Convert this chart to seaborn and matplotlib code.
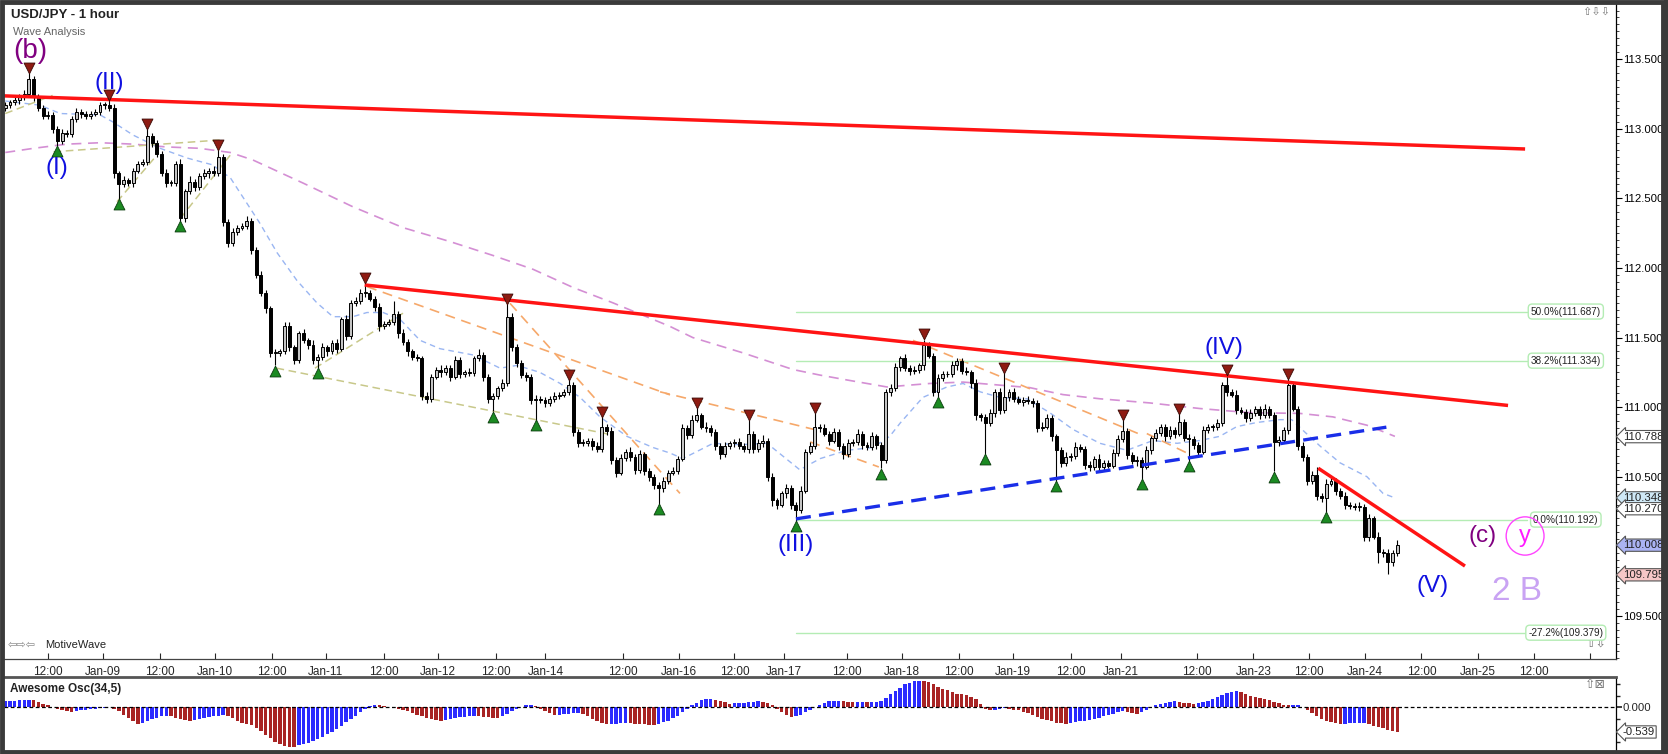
import numpy as np
import pandas as pd
import matplotlib
matplotlib.use("Agg")
import matplotlib.pyplot as plt
import matplotlib.transforms as mtransforms
from matplotlib.patches import Ellipse, Rectangle
from matplotlib.ticker import FixedLocator, MultipleLocator, NullFormatter
import seaborn as sns

# ------------------------------------------------------------------ data
close = [
    113.17, 113.19, 113.21, 113.23, 113.25, 113.36, 113.23, 113.15, 113.09, 113.10,
    113.00, 112.91, 112.97, 112.96, 113.07, 113.12, 113.11, 113.09, 113.11, 113.12,
    113.17, 113.17, 113.15, 112.68, 112.60, 112.63, 112.61, 112.70, 112.75, 112.76,
    112.95, 112.90, 112.82, 112.68, 112.61, 112.61, 112.75, 112.36, 112.55, 112.62,
    112.58, 112.66, 112.68, 112.70, 112.68, 112.80, 112.33, 112.18, 112.26, 112.29,
    112.30, 112.34, 112.13, 111.95, 111.82, 111.71, 111.39, 111.39, 111.40, 111.58,
    111.43, 111.34, 111.53, 111.48, 111.45, 111.34, 111.36, 111.43, 111.40, 111.46,
    111.42, 111.63, 111.51, 111.75, 111.76, 111.82, 111.82, 111.78, 111.72, 111.58,
    111.60, 111.61, 111.67, 111.53, 111.47, 111.40, 111.36, 111.35, 111.08, 111.06,
    111.22, 111.27, 111.25, 111.28, 111.22, 111.34, 111.24, 111.25, 111.245, 111.35,
    111.375, 111.22, 111.06, 111.08, 111.135, 111.17, 111.65, 111.435, 111.32, 111.23,
    111.22, 111.05, 111.06, 111.05, 111.03, 111.06, 111.08, 111.09, 111.11, 111.16,
    110.82, 110.74, 110.74, 110.76, 110.72, 110.70, 110.86, 110.83, 110.62, 110.53,
    110.635, 110.68, 110.645, 110.55, 110.66, 110.54, 110.50, 110.44, 110.42, 110.47,
    110.53, 110.54, 110.63, 110.85, 110.80, 110.91, 110.94, 110.86, 110.85, 110.82,
    110.72, 110.66, 110.72, 110.74, 110.75, 110.72, 110.70, 110.81, 110.70, 110.74,
    110.76, 110.50, 110.33, 110.30, 110.38, 110.42, 110.30, 110.26, 110.40, 110.68,
    110.72, 110.86, 110.85, 110.81, 110.76, 110.82, 110.72, 110.66, 110.74, 110.75,
    110.81, 110.73, 110.71, 110.79, 110.73, 110.62, 111.11, 111.135, 111.29, 111.35,
    111.28, 111.26, 111.265, 111.30, 111.45, 111.37, 111.11, 111.21, 111.24, 111.235,
    111.30, 111.33, 111.26, 111.25, 111.17, 110.94, 110.93, 110.885, 110.956, 111.11,
    110.98, 111.075, 111.11, 111.06, 111.04, 111.05, 111.045, 111.03, 110.85, 110.86,
    110.92, 110.79, 110.69, 110.60, 110.645, 110.65, 110.716, 110.70, 110.585, 110.57,
    110.63, 110.57, 110.60, 110.58, 110.67, 110.77, 110.83, 110.656, 110.61, 110.62,
    110.573, 110.69, 110.776, 110.813, 110.86, 110.79, 110.836, 110.81, 110.896, 110.776,
    110.77, 110.728, 110.68, 110.836, 110.86, 110.855, 110.885, 111.16, 111.11, 111.09,
    110.98, 110.968, 110.92, 110.956, 110.99, 110.944, 110.99, 110.944, 110.75, 110.764,
    110.836, 111.16, 110.99, 110.72, 110.644, 110.47, 110.51, 110.36, 110.345, 110.45,
    110.47, 110.40, 110.36, 110.30, 110.29, 110.28, 110.285, 110.07, 110.20, 110.07,
    109.96, 109.95, 109.89, 109.95, 110.008,
]
first_open = 113.15

upper_wick_pips = [
    2, 2, 3, 2, 3, 4, 2, 2, 2, 3,
    2, 2, 3, 2, 2, 3, 2, 2, 2, 2,
    2, 2, 4, 3, 2, 3, 2, 2, 2, 2,
    5, 2, 2, 2, 3, 2, 2, 3, 2, 4,
    2, 2, 3, 2, 3, 5, 2, 2, 3, 2,
    2, 3, 2, 2, 3, 2, 2, 3, 2, 3,
    3, 2, 2, 3, 2, 3, 2, 3, 2, 2,
    3, 2, 3, 2, 3, 3, 6, 2, 2, 3,
    2, 2, 9, 2, 3, 2, 2, 2, 2, 3,
    2, 2, 3, 2, 2, 3, 2, 2, 3, 2,
    4, 2, 2, 2, 2, 3, 9, 3, 2, 2,
    2, 2, 3, 2, 2, 2, 3, 2, 2, 4,
    2, 2, 3, 2, 2, 3, 7, 2, 3, 2,
    3, 2, 3, 2, 3, 2, 2, 2, 2, 3,
    2, 3, 2, 3, 2, 3, 6, 2, 3, 2,
    2, 2, 3, 2, 2, 3, 2, 10, 2, 3,
    4, 2, 3, 2, 2, 3, 2, 2, 3, 2,
    3, 10, 2, 3, 2, 3, 2, 2, 3, 2,
    3, 2, 2, 3, 2, 2, 2, 3, 3, 2,
    3, 2, 3, 2, 3, 2, 2, 3, 2, 2,
    3, 2, 2, 3, 2, 3, 2, 2, 3, 2,
    3, 17, 2, 3, 2, 2, 3, 2, 2, 3,
    3, 2, 2, 2, 3, 2, 3, 2, 2, 3,
    2, 3, 2, 2, 3, 3, 8, 2, 2, 3,
    2, 3, 2, 3, 2, 2, 3, 2, 6, 2,
    3, 2, 2, 3, 2, 2, 3, 2, 8, 2,
    3, 2, 2, 3, 2, 2, 3, 2, 2, 3,
    2, 4, 2, 2, 3, 2, 3, 6, 2, 3,
    3, 2, 2, 3, 2, 2, 3, 2, 3, 2,
    3, 2, 3, 2, 4,
]
lower_wick_pips = [
    2, 2, 2, 3, 2, 2, 3, 2, 2, 2,
    3, 3, 2, 2, 2, 2, 3, 2, 2, 2,
    2, 3, 2, 3, 11, 2, 2, 3, 2, 2,
    2, 3, 2, 2, 3, 2, 2, 2, 3, 2,
    3, 2, 2, 3, 2, 2, 3, 3, 2, 2,
    2, 2, 3, 2, 2, 3, 3, 9, 2, 2,
    3, 3, 2, 2, 3, 3, 6, 2, 3, 2,
    3, 2, 3, 2, 2, 2, 3, 2, 3, 3,
    2, 2, 2, 3, 2, 3, 2, 2, 3, 3,
    2, 2, 3, 2, 3, 2, 3, 2, 2, 2,
    2, 3, 3, 9, 2, 2, 2, 3, 3, 2,
    3, 3, 15, 2, 3, 2, 2, 2, 2, 2,
    3, 3, 2, 2, 3, 2, 2, 3, 3, 3,
    2, 2, 3, 3, 2, 3, 3, 3, 12, 3,
    2, 2, 2, 2, 3, 2, 2, 2, 3, 3,
    3, 3, 2, 2, 3, 2, 2, 3, 3, 2,
    3, 3, 4, 3, 2, 3, 3, 8, 2, 2,
    2, 2, 3, 2, 3, 2, 3, 3, 2, 2,
    2, 3, 2, 2, 3, 6, 2, 3, 2, 3,
    2, 3, 2, 2, 3, 2, 3, 4, 2, 2,
    2, 3, 2, 2, 3, 3, 3, 22, 2, 3,
    3, 2, 3, 2, 2, 3, 2, 3, 3, 2,
    2, 3, 22, 3, 2, 3, 2, 2, 3, 3,
    2, 3, 3, 2, 2, 2, 2, 3, 2, 3,
    9, 2, 3, 2, 2, 3, 2, 3, 2, 2,
    16, 3, 3, 2, 2, 3, 2, 2, 3, 2,
    3, 2, 3, 2, 2, 3, 2, 2, 21, 3,
    2, 3, 2, 3, 3, 3, 2, 3, 3, 10,
    2, 3, 2, 3, 2, 2, 3, 3, 3, 2,
    8, 3, 9, 3, 2,
]

# Awesome Oscillator (34,5) values
ao = [
    0.13, 0.135, 0.14, 0.15, 0.16, 0.17, 0.165, 0.12, 0.08, 0.04,
    0.01, -0.03, -0.07, -0.09, -0.10, -0.09, -0.07, -0.05, -0.04, -0.03,
    -0.02, -0.01, 0.01, -0.03, -0.09, -0.16, -0.24, -0.31, -0.37, -0.34,
    -0.30, -0.26, -0.23, -0.20, -0.18, -0.20, -0.23, -0.26, -0.28, -0.29,
    -0.27, -0.25, -0.23, -0.21, -0.19, -0.18, -0.17, -0.19, -0.24, -0.29,
    -0.34, -0.37, -0.39, -0.45, -0.52, -0.60, -0.68, -0.75, -0.80, -0.84,
    -0.86, -0.87, -0.83, -0.80, -0.77, -0.73, -0.69, -0.64, -0.59, -0.53,
    -0.47, -0.40, -0.33, -0.26, -0.18, -0.10, -0.03, 0.03, 0.05, 0.04,
    0.02, 0.00, -0.01, -0.03, -0.05, -0.08, -0.12, -0.16, -0.20, -0.23,
    -0.26, -0.28, -0.29, -0.27, -0.25, -0.23, -0.22, -0.21, -0.20, -0.19,
    -0.20, -0.21, -0.22, -0.23, -0.24, -0.20, -0.14, -0.08, -0.03, 0.01,
    0.04, 0.06, 0.02, -0.03, -0.08, -0.13, -0.17, -0.16, -0.15, -0.14,
    -0.13, -0.12, -0.15, -0.20, -0.26, -0.31, -0.35, -0.37, -0.36, -0.355,
    -0.35, -0.345, -0.35, -0.36, -0.37, -0.375, -0.38, -0.385, -0.36, -0.33,
    -0.29, -0.24, -0.18, -0.11, -0.04, 0.04, 0.10, 0.15, 0.18, 0.19,
    0.17, 0.14, 0.11, 0.08, 0.085, 0.09, 0.10, 0.11, 0.12, 0.13,
    0.12, 0.10, 0.04, -0.03, -0.10, -0.16, -0.22, -0.20, -0.16, -0.11,
    -0.05, 0.01, 0.06, 0.10, 0.13, 0.14, 0.145, 0.13, 0.12, 0.11,
    0.115, 0.12, 0.115, 0.12, 0.125, 0.14, 0.20, 0.28, 0.36, 0.43,
    0.50, 0.54, 0.57, 0.58, 0.57, 0.55, 0.50, 0.45, 0.41, 0.37,
    0.33, 0.30, 0.28, 0.26, 0.23, 0.18, 0.08, -0.04, -0.06, -0.05,
    -0.04, -0.02, -0.03, -0.05, -0.07, -0.10, -0.13, -0.17, -0.21, -0.25,
    -0.28, -0.31, -0.34, -0.35, -0.36, -0.35, -0.33, -0.31, -0.29, -0.27,
    -0.25, -0.23, -0.20, -0.17, -0.14, -0.11, -0.09, -0.10, -0.12, -0.14,
    -0.10, -0.05, 0.00, 0.04, 0.08, 0.10, 0.12, 0.13, 0.11, 0.10,
    0.09, 0.08, 0.09, 0.11, 0.14, 0.18, 0.22, 0.27, 0.31, 0.34,
    0.35, 0.33, 0.29, 0.25, 0.22, 0.20, 0.18, 0.15, 0.12, 0.09,
    0.06, 0.04, 0.05, 0.055, 0.01, -0.05, -0.13, -0.20, -0.25, -0.29,
    -0.32, -0.34, -0.36, -0.355, -0.35, -0.345, -0.34, -0.335, -0.37, -0.40,
    -0.43, -0.46, -0.49, -0.52, -0.539,
]

# moving averages (sampled where read)
ma_fast_bar = [0, 7.3, 11.6, 20, 22.7, 27, 32.7, 38.4, 43.9, 45.3, 47.5, 49.6, 53.8, 57.4,
               61.6, 65.8, 69.2, 73.4, 76.4, 79.8, 83.4, 87.6, 91.8, 98.8, 104.5, 108.1,
               112.9, 117.2, 121.4, 125.6, 131.3, 136.8, 140.4, 143.1, 149.5, 155.2, 160.9,
               167.8, 172.1, 177.8, 183.2, 186.8, 189, 193.8, 198.9, 202.3, 205.9, 210.1,
               215.8, 220.6, 225.5, 231.2, 236.9, 242.4, 247.5, 252.3, 256.5, 260.1, 264.4,
               269.2, 271.7, 274.5, 277.7, 281.9, 287.6, 291, 293.5]
ma_fast = [113.20, 113.17, 113.11, 113.10, 113.05, 112.955, 112.86, 112.79, 112.74, 112.70,
           112.65, 112.54, 112.32, 112.11, 111.91, 111.75, 111.65, 111.65, 111.68, 111.68,
           111.63, 111.48, 111.42, 111.375, 111.28, 111.30, 111.25, 111.17, 111.07, 110.93,
           110.79, 110.71, 110.67, 110.63, 110.74, 110.73, 110.74, 110.55, 110.63, 110.69,
           110.71, 110.79, 110.885, 111.07, 111.145, 111.17, 111.11, 111.07, 111.06, 110.96,
           110.84, 110.74, 110.69, 110.76, 110.74, 110.76, 110.79, 110.86, 110.89, 110.91,
           110.91, 110.82, 110.72, 110.60, 110.50, 110.38, 110.348]
ma_slow_bar = [0, 6, 13, 20, 27, 34, 41, 47.5, 52.3, 62.9, 73.4, 84, 93.9, 103, 111.5, 119.9,
               128.3, 140.4, 145.2, 155.8, 166.4, 172.1, 177.8, 186.2, 195.3, 202.3, 209.4,
               216.4, 223.4, 231.2, 241.8, 252.3, 262.9, 273.4, 280.4, 287.6, 293.5]
ma_slow = [112.83, 112.86, 112.89, 112.90, 112.89, 112.87, 112.86, 112.83, 112.776, 112.61,
           112.44, 112.29, 112.19, 112.09, 111.99, 111.86, 111.75, 111.58, 111.50, 111.39,
           111.27, 111.23, 111.195, 111.145, 111.17, 111.18, 111.16, 111.14, 111.09, 111.06,
           111.03, 110.99, 110.96, 110.955, 110.93, 110.87, 110.79]

# time axis
tick_bar = [9.0, 20.6, 32.6, 44.3, 56.4, 67.7, 80.0, 91.4, 103.7, 114.1, 130.5, 142.2, 154.0,
            164.4, 177.8, 189.3, 201.4, 212.8, 225.0, 235.6, 251.7, 263.6, 275.4, 287.2,
            299.1, 311.0, 322.8, 334.7]
tick_label = ["12:00", "Jan-09", "12:00", "Jan-10", "12:00", "Jan-11", "12:00", "Jan-12",
              "12:00", "Jan-14", "12:00", "Jan-16", "12:00", "Jan-17", "12:00", "Jan-18",
              "12:00", "Jan-19", "12:00", "Jan-21", "12:00", "Jan-23", "12:00", "Jan-24",
              "12:00", "Jan-25", "12:00", ""]
price_ticks = [109.5, 110.0, 110.5, 111.0, 111.5, 112.0, 112.5, 113.0, 113.5]
price_tick_labels = ["109.500", "", "110.500", "111.000", "111.500", "112.000", "112.500",
                     "113.000", "113.500"]

# analyst trendlines (bar, price endpoints)
top_red_bar, top_red_px = [-0.4, 321.0], [113.237, 112.855]
mid_red_bar, mid_red_px = [75.9, 317.4], [111.878, 111.012]
short_red_bar, short_red_px = [277.3, 308.3], [110.561, 109.858]
blue_dash_bar, blue_dash_px = [167.0, 291.7], [110.197, 110.856]
orange_lines = [([76.4, 140.4], [111.866, 111.088]),
                ([106.6, 142.5], [111.746, 110.38]),
                ([138.3, 172.0], [111.11, 110.83]),
                ([170.0, 184.5], [110.75, 110.57]),
                ([191.7, 240.0], [111.48, 110.80]),
                ([241.1, 249.6], [110.81, 110.67])]
khaki_lines = [([10.2, 45.5], [112.835, 112.92]),
               ([0.0, 10.0], [113.11, 113.24]),
               ([23.6, 32.0], [112.476, 112.81]),
               ([37.0, 47.5], [112.357, 112.81]),
               ([57.3, 128.3], [111.28, 110.80]),
               ([65.4, 84.0], [111.28, 111.675])]

# Fibonacci levels
fib_start_bar, fib_end_bar = 167.0, 321.5
fib_levels = [111.687, 111.334, 110.192, 109.379]
fib_names = ["50.0%", "38.2%", "0.0%", "-27.2%"]

# swing markers
hi_mark_bar = [5, 22, 30, 45, 76, 106, 119, 126, 146, 157, 171, 194, 211, 236, 248, 258, 271]
hi_mark_px = [113.435, 113.245, 113.035, 112.885, 111.925, 111.78, 111.23, 110.965, 111.03,
              110.945, 110.995, 111.526, 111.28, 110.945, 110.99, 111.267, 111.235]
lo_mark_bar = [11, 24, 37, 57, 66, 103, 112, 138, 167, 185, 197, 207, 222, 240, 250, 268, 279]
lo_mark_px = [112.84, 112.46, 112.30, 111.26, 111.245, 110.93, 110.87, 110.27, 110.145, 110.52,
              111.035, 110.63, 110.435, 110.445, 110.575, 110.50, 110.213]

# wave labels
wave_text = ["(b)", "(II)", "(I)", "(III)", "(IV)", "(V)", "(c)"]
wave_bar = [5.2, 22.0, 10.8, 167.0, 257.3, 301.5, 312.0]
wave_px = [113.56, 113.33, 112.72, 110.01, 111.425, 109.716, 110.074]
wave_color = ["#800080", "#1010e0", "#1010e0", "#1010e0", "#1010e0", "#1010e0", "#800080"]

# right-hand value flags
flag_values = [110.788, 110.348, 110.270, 110.008, 109.795]
flag_colors = ["white", "#cfe8f6", "white", "#aab3f3", "#f5c6c6"]

# ------------------------------------------------------------------ frame
sns.set_theme(style="white")
plt.rcParams["font.family"] = ["Liberation Sans", "DejaVu Sans"]

W, H = 1668, 754
fig = plt.figure(figsize=(W / 100, H / 100), dpi=100)
fig.patch.set_facecolor("white")


def frac(x0, y0, x1, y1):
    return [x0 / W, 1 - y1 / H, (x1 - x0) / W, (y1 - y0) / H]


ax = fig.add_axes(frac(4, 4, 1616, 659))
ax2 = fig.add_axes(frac(4, 677, 1616, 751))

df = pd.DataFrame({"bar": np.arange(len(close)), "close": close,
                   "uw": upper_wick_pips, "lw": lower_wick_pips})
df["open"] = df["close"].shift(1).fillna(first_open)
df["top"] = df[["open", "close"]].max(axis=1)
df["bot"] = df[["open", "close"]].min(axis=1)
df["high"] = df["top"] + df["uw"] / 100.0
df["low"] = df["bot"] - df["lw"] / 100.0
df["up"] = df["close"] >= df["open"]

# moving averages behind candles
sns.lineplot(x=ma_slow_bar, y=ma_slow, ax=ax, color="#d48fd4", lw=1.2,
             linestyle=(0, (6, 4)), zorder=1)
sns.lineplot(x=ma_fast_bar, y=ma_fast, ax=ax, color="#9ab6f2", lw=1.0,
             linestyle=(0, (4, 3)), zorder=1)
for xs, ys in khaki_lines:
    ax.plot(xs, ys, color="#c8c88a", lw=1.1, linestyle=(0, (5, 3)), zorder=1)
for xs, ys in orange_lines:
    ax.plot(xs, ys, color="#f6a86a", lw=1.2, linestyle=(0, (6, 4)), zorder=1)

# fib lines
for lv, nm in zip(fib_levels, fib_names):
    ax.plot([fib_start_bar, fib_end_bar], [lv, lv], color="#b4ecb4", lw=1.0, zorder=1)
    ax.text(329.6, lv, f"{nm}({lv:.3f})", fontsize=7.2, ha="center", va="center",
            color="#222222", zorder=6,
            bbox=dict(boxstyle="round,pad=0.25,rounding_size=0.4", fc="white",
                      ec="#b4ecb4", lw=1.0))

# candles
ax.vlines(df["bar"], df["low"], df["high"], color="black", lw=0.8, zorder=3)
heights = (df["top"] - df["bot"]).clip(lower=0.006)
ax.bar(df["bar"][df["up"]], heights[df["up"]], bottom=df["bot"][df["up"]], width=0.62,
       color="#c4c4c4", edgecolor="black", linewidth=0.7, zorder=4)
ax.bar(df["bar"][~df["up"]], heights[~df["up"]], bottom=df["bot"][~df["up"]], width=0.62,
       color="black", edgecolor="black", linewidth=0.7, zorder=4)

# trendlines
ax.plot(top_red_bar, top_red_px, color="#ff1414", lw=2.5, zorder=5, solid_capstyle="butt")
ax.plot(mid_red_bar, mid_red_px, color="#ff1414", lw=2.5, zorder=5, solid_capstyle="butt")
ax.plot(short_red_bar, short_red_px, color="#ff1414", lw=2.5, zorder=5, solid_capstyle="butt")
ax.plot(blue_dash_bar, blue_dash_px, color="#1a2ee8", lw=2.4, zorder=5,
        linestyle=(0, (4.5, 2.5)))

# markers
ax.scatter(hi_mark_bar, hi_mark_px, marker="v", s=62, color="#8e1b12", edgecolor="#3a0a06",
           linewidth=0.6, zorder=7)
ax.scatter(lo_mark_bar, lo_mark_px, marker="^", s=62, color="#1b8a22", edgecolor="#0b3d0e",
           linewidth=0.6, zorder=7)

# wave labels
for t, xb, yp, c in zip(wave_text, wave_bar, wave_px, wave_color):
    ax.text(xb, yp, t, color=c, fontsize=20 if t == "(b)" else 17.5, ha="center",
            va="center", zorder=8)
ax.text(321.0, 110.074, "y", color="#ff1aff", fontsize=17, ha="center", va="center", zorder=8)
ax.add_patch(Ellipse((321.0, 110.074), width=8.0, height=0.275, fill=False, ec="#ff44ff",
                     lw=1.0, zorder=8))
ax.text(319.2, 109.674, "2 B", color="#c9a3f3", fontsize=24, ha="center", va="center",
        zorder=8)

# axis cosmetics (main)
ax.set_xlim(-0.27, 340.2)
ax.set_ylim(109.19, 113.897)
ax.set_facecolor("white")
ax.set_xlabel("")
ax.set_ylabel("")
ax.yaxis.tick_right()
ax.yaxis.set_major_locator(FixedLocator(price_ticks))
ax.set_yticklabels(price_tick_labels)
ax.yaxis.set_minor_locator(MultipleLocator(0.05))
ax.tick_params(axis="y", which="major", direction="out", length=4, width=0.8,
               labelsize=8.2, pad=1, colors="black", right=True, left=False)
ax.tick_params(axis="y", which="minor", direction="out", length=2.5, width=0.6,
               right=True, left=False)
ax.set_xticks(tick_bar)
ax.set_xticklabels(tick_label)
ax.tick_params(axis="x", direction="in", length=4, width=0.8, labelsize=8.5, pad=5,
               bottom=True, top=False)
for s in ["left", "top"]:
    ax.spines[s].set_visible(False)
ax.spines["right"].set_color("black")
ax.spines["right"].set_linewidth(0.9)
ax.spines["bottom"].set_color("#444444")
ax.spines["bottom"].set_linewidth(0.9)
ax.grid(False)

trans = mtransforms.blended_transform_factory(ax.transAxes, ax.transData)
for v, fc in zip(flag_values, flag_colors):
    ax.text(1.0042, v, f"{v:.3f}", transform=trans, fontsize=8.2, ha="left", va="center",
            color="#222222", clip_on=False, zorder=9,
            bbox=dict(boxstyle="larrow,pad=0.1", fc=fc, ec="#555555", lw=0.8))

ax.text(0.0045, 0.983, "USD/JPY - 1 hour", transform=ax.transAxes, fontsize=9.5,
        fontweight="bold", color="#222222", ha="left", va="center")
ax.text(0.0055, 0.958, "Wave Analysis", transform=ax.transAxes, fontsize=8,
        color="#666666", ha="left", va="center")
ax.text(0.002, 0.022, "⇦⇨⇦", transform=ax.transAxes, fontsize=8, color="#888888",
        ha="left", va="center", family="DejaVu Sans")
ax.text(0.0255, 0.022, "MotiveWave", transform=ax.transAxes, fontsize=8, color="#222222",
        ha="left", va="center")
ax.text(0.988, 0.022, "⇧⇩", transform=ax.transAxes, fontsize=9, color="#777777",
        ha="center", va="center", family="DejaVu Sans")
ax.text(0.988, 0.988, "⇧⇩⇩", transform=ax.transAxes, fontsize=8, color="#777777",
        ha="center", va="center", family="DejaVu Sans")

# ------------------------------------------------------------------ oscillator
ao_df = pd.DataFrame({"bar": np.arange(len(ao)), "ao": ao})
ao_df["rising"] = ao_df["ao"].diff().fillna(1.0) >= 0
ao_colors = np.where(ao_df["rising"], "#2b2bff", "#a82424")
ax2.bar(ao_df["bar"], ao_df["ao"], width=0.72, color=ao_colors, edgecolor="none", zorder=2)
ax2.axhline(0, color="black", lw=0.9, linestyle=(0, (3, 2)), zorder=3)
ax2.set_xlim(-0.27, 340.2)
ax2.set_ylim(-0.955, 0.662)
ax2.set_xticks([])
ax2.yaxis.tick_right()
ax2.set_yticks([0.0])
ax2.set_yticklabels(["0.000"])
ax2.yaxis.set_minor_locator(MultipleLocator(0.25))
ax2.yaxis.set_minor_formatter(NullFormatter())
ax2.tick_params(axis="y", which="major", direction="out", length=4, labelsize=8.2, pad=1,
                right=True, left=False)
ax2.tick_params(axis="y", which="minor", direction="out", length=3, right=True, left=False)
for s in ["left", "bottom"]:
    ax2.spines[s].set_visible(False)
ax2.spines["top"].set_color("#555555")
ax2.spines["top"].set_linewidth(2.0)
ax2.spines["right"].set_color("black")
ax2.spines["right"].set_linewidth(0.9)
ax2.set_facecolor("white")
ax2.grid(False)
trans2 = mtransforms.blended_transform_factory(ax2.transAxes, ax2.transData)
ax2.text(1.0042, ao[-1], f"{ao[-1]:.3f}", transform=trans2, fontsize=8.2, ha="left",
         va="center", color="#222222", clip_on=False,
         bbox=dict(boxstyle="larrow,pad=0.1", fc="white", ec="#555555", lw=0.8))
ax2.text(0.004, 0.84, "Awesome Osc(34,5)", transform=ax2.transAxes, fontsize=8.5,
         fontweight="bold", color="#222222", ha="left", va="center")
ax2.text(0.987, 0.90, "⇧⊠", transform=ax2.transAxes, fontsize=9, color="#777777",
         ha="center", va="center", family="DejaVu Sans")

# outer dark frame
fig.patches.append(Rectangle((0.001, 0.002), 0.996, 0.996, transform=fig.transFigure,
                             fill=False, ec="#3a3a3a", lw=3.5))
fig.patches.append(Rectangle((1664 / W, 0), 4 / W, 1, transform=fig.transFigure,
                             fill=True, fc="#3a3a3a", ec="none"))

fig.savefig("out.png", dpi=100, facecolor="white")
